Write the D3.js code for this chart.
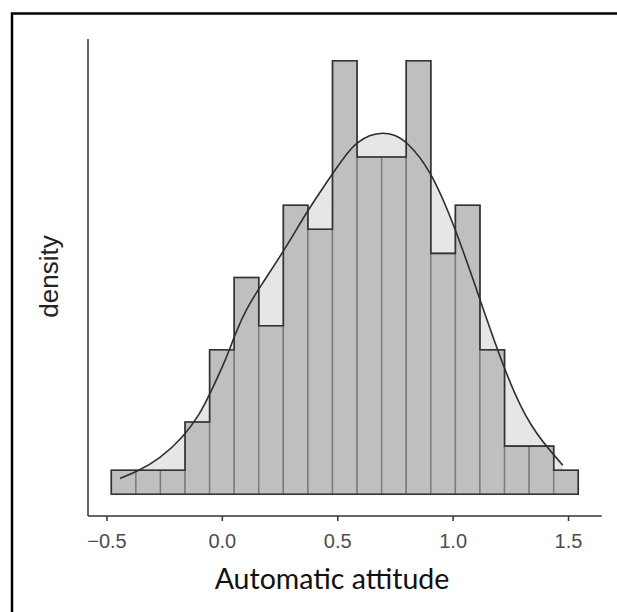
<!DOCTYPE html>
<html>
<head>
<meta charset="utf-8">
<script src="https://cdn.jsdelivr.net/npm/d3@7"></script>
<style>
  html, body { margin: 0; padding: 0; background: #fff; }
  svg { display: block; }
</style>
</head>
<body>
<svg id="chart" width="617" height="612"></svg>
<script>
// ---- data ----
const binEdges = [-0.479, -0.3725, -0.266, -0.1595, -0.053, 0.0535, 0.160, 0.2665, 0.373, 0.4795,
                  0.586, 0.6925, 0.799, 0.9055, 1.012, 1.1185, 1.225, 1.3315, 1.438, 1.5445];
const binCounts = [1, 1, 1, 3, 6, 9, 7, 12, 11, 18, 14, 14, 18, 10, 12, 6, 2, 2, 1];

// density curve (scaled to counts)
const curveX = [-0.4416, -0.369, -0.2684, -0.1675, -0.0952, -0.052, 0.0203, 0.0563, 0.107, 0.1645,
                0.2654, 0.3667, 0.4242, 0.4818, 0.5541, 0.583, 0.640, 0.698, 0.75, 0.80, 0.9004, 1.0087,
                1.117, 1.225, 1.333, 1.4775];
const curveY = [0.66, 0.93, 1.48, 2.37, 3.33, 4.16, 5.66, 6.63, 7.72, 8.60,
                10.05, 11.70, 12.52, 13.35, 14.30, 14.58, 14.92, 15.02, 14.92, 14.65, 13.55, 11.15,
                8.13, 5.12, 2.78, 1.21];

const xTicks = [-0.5, 0.0, 0.5, 1.0, 1.5];
const xTickLabels = ["\u22120.5", "0.0", "0.5", "1.0", "1.5"];
const xTitle = "Automatic attitude";
const yTitle = "density";

// ---- layout ----
const svg = d3.select("#chart");
const panel = { left: 88, right: 601.7, top: 39, bottom: 516 };

const x = d3.scaleLinear().domain([-0.580, 1.646]).range([panel.left, panel.right]);
const y = d3.scaleLinear().domain([-0.9, 18.9]).range([panel.bottom, panel.top]);

// outer frame (cropped screenshot border)
svg.append("path")
  .attr("d", "M12,612 L12,13.5 L617,13.5")
  .attr("fill", "none").attr("stroke", "#000").attr("stroke-width", 2.5);

const bins = binCounts.map((c, i) => ({ x0: binEdges[i], x1: binEdges[i + 1], count: c }));
const curvePts = curveX.map((v, i) => ({ x: v, y: curveY[i] }));
const smooth = d3.curveBasis;

// density area (behind bars)
svg.append("path")
  .datum(curvePts)
  .attr("fill", "#e6e6e6")
  .attr("d", d3.area().curve(smooth)
    .x(d => x(d.x)).y0(y(0)).y1(d => y(d.y)));

// bars
svg.append("g").selectAll("rect").data(bins).join("rect")
  .attr("x", d => x(d.x0))
  .attr("width", d => x(d.x1) - x(d.x0))
  .attr("y", d => y(d.count))
  .attr("height", d => y(0) - y(d.count))
  .attr("fill", "#bfbfbf")
  .attr("stroke", "#7a7a7a")
  .attr("stroke-width", 1.4);

// histogram silhouette (darker outer outline)
const outline = [{ x: bins[0].x0, y: 0 }];
bins.forEach(b => { outline.push({ x: b.x0, y: b.count }); outline.push({ x: b.x1, y: b.count }); });
outline.push({ x: bins[bins.length - 1].x1, y: 0 });
const outlineLine = d3.line().x(d => x(d.x)).y(d => y(d.y));
svg.append("path")
  .datum(outline)
  .attr("fill", "none")
  .attr("stroke", "#333")
  .attr("stroke-width", 1.6)
  .attr("stroke-linejoin", "miter")
  .attr("d", d => outlineLine(d) + "Z");

// density line
svg.append("path")
  .datum(curvePts)
  .attr("fill", "none")
  .attr("stroke", "#2e2e2e")
  .attr("stroke-width", 1.6)
  .attr("d", d3.line().curve(smooth).x(d => x(d.x)).y(d => y(d.y)));

// x axis
const xAxis = d3.axisBottom(x).tickValues(xTicks)
  .tickFormat((d, i) => xTickLabels[i]).tickSize(5).tickPadding(4);
const gx = svg.append("g").attr("transform", `translate(0,${panel.bottom})`).call(xAxis);
gx.select(".domain").attr("stroke", "#333").attr("stroke-width", 1.5)
  .attr("d", `M${panel.left},0H${panel.right}`);
gx.selectAll(".tick line").attr("stroke", "#333").attr("stroke-width", 1.5);
gx.selectAll(".tick text")
  .attr("fill", "#4d4d4d")
  .attr("font-family", "'Liberation Sans', Arial, sans-serif")
  .attr("font-size", 20)
  .attr("dy", null)
  .attr("y", 32);

// y axis (line only)
const yAxis = d3.axisLeft(y).tickValues([]).tickSize(0);
const gy = svg.append("g").attr("transform", `translate(${panel.left},0)`).call(yAxis);
gy.select(".domain").attr("stroke", "#333").attr("stroke-width", 1.5)
  .attr("d", `M0,${panel.top}V${panel.bottom}`);

// titles
svg.append("text")
  .attr("x", 332).attr("y", 589)
  .attr("text-anchor", "middle")
  .attr("font-family", "Lato, 'Open Sans', sans-serif")
  .attr("font-size", 28.5)
  .attr("fill", "#111")
  .text(xTitle);

svg.append("text")
  .attr("transform", "translate(57.5,276.5) rotate(-90)")
  .attr("text-anchor", "middle")
  .attr("font-family", "'Liberation Sans', Arial, sans-serif")
  .attr("font-size", 26)
  .attr("fill", "#222")
  .text(yTitle);
</script>
</body>
</html>
